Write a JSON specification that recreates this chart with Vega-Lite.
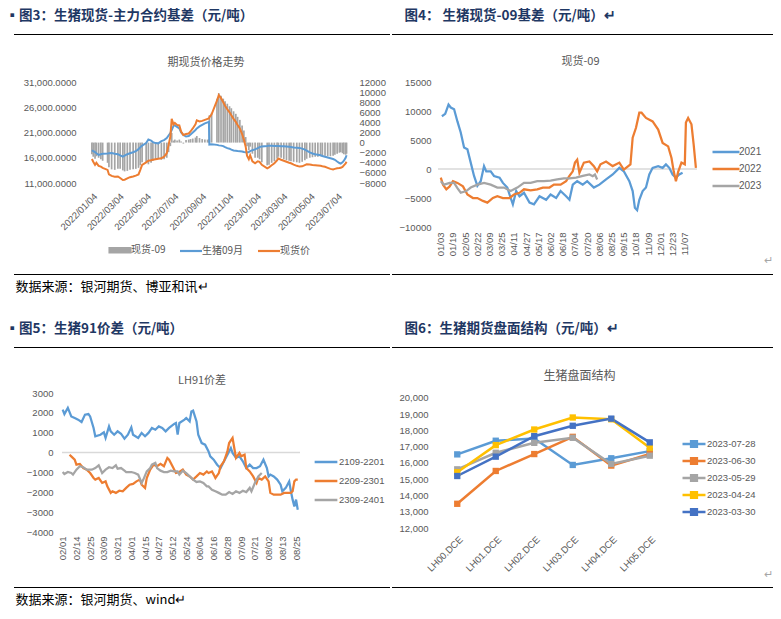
{
  "$schema": "https://vega.github.io/schema/vega-lite/v6.json",
  "padding": {"left": 5, "top": 8, "right": 5, "bottom": 5},
  "background": "white",
  "config": {
    "view": {"stroke": null},
    "font": "Noto Sans CJK SC",
    "axis": {"grid": false, "domain": false, "ticks": false, "labelColor": "#595959", "labelFont": "Liberation Sans", "labelFontSize": 9.5, "labelOverlap": false, "labelBound": false},
    "legend": {"labelColor": "#595959", "labelFontSize": 9.5, "labelFont": "Liberation Sans", "symbolStrokeWidth": 2.5},
    "title": {"font": "Noto Sans CJK SC", "fontWeight": "normal", "color": "#595959", "fontSize": 11}
  },
  "datasets": {
    "sep": [{"a": 0, "b": 1}],
    "c3": [
      {"d": "2022-01-04", "fut": 17500, "spot": 15750, "basis": -2300},
      {"d": "2022-01-07", "fut": 17300, "spot": 15200, "basis": -2800},
      {"d": "2022-01-11", "fut": 17100, "spot": 14600, "basis": -3200},
      {"d": "2022-01-14", "fut": 16900, "spot": 15000, "basis": -2700},
      {"d": "2022-01-19", "fut": 16550, "spot": 14400, "basis": -3000},
      {"d": "2022-01-24", "fut": 16700, "spot": 14250, "basis": -3300},
      {"d": "2022-01-28", "fut": 16800, "spot": 14000, "basis": -3600},
      {"d": "2022-02-08", "fut": 16850, "spot": 13600, "basis": -4000},
      {"d": "2022-02-11", "fut": 16900, "spot": 12700, "basis": -4900},
      {"d": "2022-02-17", "fut": 16950, "spot": 12400, "basis": -5300},
      {"d": "2022-02-24", "fut": 16800, "spot": 12250, "basis": -5400},
      {"d": "2022-03-03", "fut": 16700, "spot": 12300, "basis": -5200},
      {"d": "2022-03-08", "fut": 16450, "spot": 12000, "basis": -5200},
      {"d": "2022-03-14", "fut": 16200, "spot": 11600, "basis": -5500},
      {"d": "2022-03-18", "fut": 16400, "spot": 11650, "basis": -5700},
      {"d": "2022-03-24", "fut": 16700, "spot": 11900, "basis": -5600},
      {"d": "2022-03-30", "fut": 16900, "spot": 12150, "basis": -5400},
      {"d": "2022-04-06", "fut": 17100, "spot": 12300, "basis": -5300},
      {"d": "2022-04-12", "fut": 17300, "spot": 12450, "basis": -5200},
      {"d": "2022-04-18", "fut": 17700, "spot": 12700, "basis": -5000},
      {"d": "2022-04-22", "fut": 18100, "spot": 13600, "basis": -4500},
      {"d": "2022-04-26", "fut": 18400, "spot": 14600, "basis": -3900},
      {"d": "2022-05-05", "fut": 18900, "spot": 15100, "basis": -3900},
      {"d": "2022-05-10", "fut": 19600, "spot": 15400, "basis": -4300},
      {"d": "2022-05-16", "fut": 19400, "spot": 15500, "basis": -4000},
      {"d": "2022-05-20", "fut": 19100, "spot": 15600, "basis": -3600},
      {"d": "2022-05-26", "fut": 18900, "spot": 15700, "basis": -3300},
      {"d": "2022-06-01", "fut": 18850, "spot": 15800, "basis": -3100},
      {"d": "2022-06-08", "fut": 19300, "spot": 15900, "basis": -3400},
      {"d": "2022-06-14", "fut": 19500, "spot": 16200, "basis": -3300},
      {"d": "2022-06-20", "fut": 19900, "spot": 16900, "basis": -3000},
      {"d": "2022-06-24", "fut": 20400, "spot": 18500, "basis": -1900},
      {"d": "2022-06-28", "fut": 20900, "spot": 20200, "basis": -700},
      {"d": "2022-07-01", "fut": 21500, "spot": 23700, "basis": 1900},
      {"d": "2022-07-05", "fut": 22300, "spot": 22600, "basis": 400},
      {"d": "2022-07-08", "fut": 22400, "spot": 22900, "basis": 600},
      {"d": "2022-07-13", "fut": 22100, "spot": 22500, "basis": 400},
      {"d": "2022-07-18", "fut": 21800, "spot": 22400, "basis": 600},
      {"d": "2022-07-22", "fut": 21000, "spot": 21200, "basis": 200},
      {"d": "2022-07-27", "fut": 20500, "spot": 20500, "basis": -200},
      {"d": "2022-08-02", "fut": 20200, "spot": 20700, "basis": 500},
      {"d": "2022-08-08", "fut": 20300, "spot": 20800, "basis": 600},
      {"d": "2022-08-12", "fut": 20600, "spot": 21200, "basis": 700},
      {"d": "2022-08-17", "fut": 21000, "spot": 21800, "basis": 800},
      {"d": "2022-08-23", "fut": 21500, "spot": 22600, "basis": 1000},
      {"d": "2022-08-26", "fut": 21800, "spot": 23400, "basis": 1300},
      {"d": "2022-09-01", "fut": 22200, "spot": 23200, "basis": 900},
      {"d": "2022-09-07", "fut": 22500, "spot": 23300, "basis": 700},
      {"d": "2022-09-13", "fut": 22800, "spot": 23500, "basis": 600},
      {"d": "2022-09-19", "fut": 23000, "spot": 23700, "basis": 600},
      {"d": "2022-09-22", "fut": 23100, "spot": 23800, "basis": 700},
      {"d": "2022-09-23", "fut": 18600, "spot": 24000, "basis": 5400},
      {"d": "2022-09-28", "fut": 18650, "spot": 24600, "basis": 5900},
      {"d": "2022-10-10", "fut": 18550, "spot": 27300, "basis": 8700},
      {"d": "2022-10-14", "fut": 18450, "spot": 28400, "basis": 9800},
      {"d": "2022-10-19", "fut": 18400, "spot": 27800, "basis": 9300},
      {"d": "2022-10-24", "fut": 18300, "spot": 27000, "basis": 8700},
      {"d": "2022-10-28", "fut": 18100, "spot": 26300, "basis": 8200},
      {"d": "2022-11-02", "fut": 17900, "spot": 25600, "basis": 7700},
      {"d": "2022-11-07", "fut": 17800, "spot": 25000, "basis": 7200},
      {"d": "2022-11-11", "fut": 17600, "spot": 24400, "basis": 6800},
      {"d": "2022-11-16", "fut": 17450, "spot": 23700, "basis": 6200},
      {"d": "2022-11-21", "fut": 17400, "spot": 23100, "basis": 5700},
      {"d": "2022-11-25", "fut": 17350, "spot": 22500, "basis": 5100},
      {"d": "2022-11-30", "fut": 17300, "spot": 21800, "basis": 4500},
      {"d": "2022-12-05", "fut": 17250, "spot": 20700, "basis": 3400},
      {"d": "2022-12-09", "fut": 17150, "spot": 19600, "basis": 2400},
      {"d": "2022-12-13", "fut": 17080, "spot": 18200, "basis": 1100},
      {"d": "2022-12-16", "fut": 17060, "spot": 16400, "basis": -700},
      {"d": "2022-12-20", "fut": 17150, "spot": 15700, "basis": -1500},
      {"d": "2022-12-23", "fut": 17300, "spot": 16500, "basis": -800},
      {"d": "2022-12-28", "fut": 17500, "spot": 15300, "basis": -2200},
      {"d": "2023-01-03", "fut": 17650, "spot": 14900, "basis": -3000},
      {"d": "2023-01-09", "fut": 17900, "spot": 15300, "basis": -3000},
      {"d": "2023-01-13", "fut": 18100, "spot": 15200, "basis": -3300},
      {"d": "2023-01-18", "fut": 18250, "spot": 14600, "basis": -3900},
      {"d": "2023-01-30", "fut": 18350, "spot": 13900, "basis": -4500},
      {"d": "2023-02-03", "fut": 18400, "spot": 14100, "basis": -4400},
      {"d": "2023-02-09", "fut": 18400, "spot": 14500, "basis": -4000},
      {"d": "2023-02-15", "fut": 18350, "spot": 14900, "basis": -3700},
      {"d": "2023-02-21", "fut": 18350, "spot": 15500, "basis": -3200},
      {"d": "2023-02-24", "fut": 18350, "spot": 15850, "basis": -2800},
      {"d": "2023-03-02", "fut": 18300, "spot": 15600, "basis": -3000},
      {"d": "2023-03-08", "fut": 18280, "spot": 15400, "basis": -3300},
      {"d": "2023-03-14", "fut": 18250, "spot": 15200, "basis": -3500},
      {"d": "2023-03-20", "fut": 18200, "spot": 15000, "basis": -3600},
      {"d": "2023-03-24", "fut": 18150, "spot": 14900, "basis": -3700},
      {"d": "2023-03-30", "fut": 18050, "spot": 14650, "basis": -3800},
      {"d": "2023-04-06", "fut": 18000, "spot": 14400, "basis": -3900},
      {"d": "2023-04-12", "fut": 17950, "spot": 14250, "basis": -4000},
      {"d": "2023-04-18", "fut": 17800, "spot": 14300, "basis": -3800},
      {"d": "2023-04-24", "fut": 17600, "spot": 14550, "basis": -3500},
      {"d": "2023-04-28", "fut": 17400, "spot": 14700, "basis": -3200},
      {"d": "2023-05-05", "fut": 17050, "spot": 14650, "basis": -3000},
      {"d": "2023-05-11", "fut": 16850, "spot": 14550, "basis": -2900},
      {"d": "2023-05-17", "fut": 16700, "spot": 14500, "basis": -2800},
      {"d": "2023-05-23", "fut": 16600, "spot": 14450, "basis": -2800},
      {"d": "2023-05-29", "fut": 16500, "spot": 14400, "basis": -2700},
      {"d": "2023-06-02", "fut": 16350, "spot": 14300, "basis": -2700},
      {"d": "2023-06-08", "fut": 16200, "spot": 14200, "basis": -2600},
      {"d": "2023-06-14", "fut": 16050, "spot": 14000, "basis": -2700},
      {"d": "2023-06-20", "fut": 15900, "spot": 13800, "basis": -2700},
      {"d": "2023-06-26", "fut": 15750, "spot": 13700, "basis": -2600},
      {"d": "2023-06-30", "fut": 15600, "spot": 13800, "basis": -2400},
      {"d": "2023-07-05", "fut": 15250, "spot": 13900, "basis": -2200},
      {"d": "2023-07-10", "fut": 14950, "spot": 13950, "basis": -2000},
      {"d": "2023-07-13", "fut": 14850, "spot": 14000, "basis": -1900},
      {"d": "2023-07-17", "fut": 15100, "spot": 14200, "basis": -2100},
      {"d": "2023-07-20", "fut": 15400, "spot": 14500, "basis": -2300},
      {"d": "2023-07-24", "fut": 16000, "spot": 14900, "basis": -2400},
      {"d": "2023-07-26", "fut": 16500, "spot": 15200, "basis": -2200}
    ],
    "c4": [
      {"i": 1, "yr": "2021", "v": 9100}, {"i": 4, "yr": "2021", "v": 9500}, {"i": 7, "yr": "2021", "v": 11100}, {"i": 9, "yr": "2021", "v": 10600},
      {"i": 12, "yr": "2021", "v": 10300}, {"i": 15, "yr": "2021", "v": 8200}, {"i": 18, "yr": "2021", "v": 6300}, {"i": 21, "yr": "2021", "v": 3700},
      {"i": 24, "yr": "2021", "v": 3400}, {"i": 27, "yr": "2021", "v": 1100}, {"i": 30, "yr": "2021", "v": -1200}, {"i": 33, "yr": "2021", "v": -2900},
      {"i": 36, "yr": "2021", "v": -2100}, {"i": 39, "yr": "2021", "v": 500}, {"i": 41, "yr": "2021", "v": -400}, {"i": 45, "yr": "2021", "v": -400},
      {"i": 48, "yr": "2021", "v": -1200}, {"i": 53, "yr": "2021", "v": -1500}, {"i": 56, "yr": "2021", "v": -2400}, {"i": 60, "yr": "2021", "v": -3200},
      {"i": 63, "yr": "2021", "v": -5000}, {"i": 65, "yr": "2021", "v": -6100}, {"i": 68, "yr": "2021", "v": -3800}, {"i": 71, "yr": "2021", "v": -4700},
      {"i": 75, "yr": "2021", "v": -4100}, {"i": 80, "yr": "2021", "v": -5800}, {"i": 84, "yr": "2021", "v": -6100}, {"i": 89, "yr": "2021", "v": -4700},
      {"i": 95, "yr": "2021", "v": -5300}, {"i": 99, "yr": "2021", "v": -4400}, {"i": 104, "yr": "2021", "v": -5000}, {"i": 108, "yr": "2021", "v": -3800},
      {"i": 113, "yr": "2021", "v": -4700}, {"i": 116, "yr": "2021", "v": -5300}, {"i": 119, "yr": "2021", "v": -2700}, {"i": 123, "yr": "2021", "v": -2100},
      {"i": 128, "yr": "2021", "v": -2700}, {"i": 132, "yr": "2021", "v": -2100}, {"i": 138, "yr": "2021", "v": -3200}, {"i": 143, "yr": "2021", "v": -2700},
      {"i": 149, "yr": "2021", "v": -1800}, {"i": 155, "yr": "2021", "v": -950}, {"i": 161, "yr": "2021", "v": 200}, {"i": 165, "yr": "2021", "v": -400},
      {"i": 170, "yr": "2021", "v": -2100}, {"i": 173, "yr": "2021", "v": -3800}, {"i": 175, "yr": "2021", "v": -6700}, {"i": 177, "yr": "2021", "v": -7100},
      {"i": 179, "yr": "2021", "v": -5300}, {"i": 182, "yr": "2021", "v": -3800}, {"i": 185, "yr": "2021", "v": -3200}, {"i": 188, "yr": "2021", "v": -950},
      {"i": 191, "yr": "2021", "v": 200}, {"i": 196, "yr": "2021", "v": 500}, {"i": 200, "yr": "2021", "v": 200}, {"i": 203, "yr": "2021", "v": 800},
      {"i": 206, "yr": "2021", "v": 200}, {"i": 209, "yr": "2021", "v": -950}, {"i": 212, "yr": "2021", "v": -1500}, {"i": 215, "yr": "2021", "v": -950},
      {"i": 218, "yr": "2021", "v": -650},
      {"i": 0, "yr": "2022", "v": -1500}, {"i": 2, "yr": "2022", "v": -2700}, {"i": 5, "yr": "2022", "v": -3500}, {"i": 8, "yr": "2022", "v": -3000},
      {"i": 11, "yr": "2022", "v": -2100}, {"i": 15, "yr": "2022", "v": -2400}, {"i": 20, "yr": "2022", "v": -3000}, {"i": 24, "yr": "2022", "v": -4400},
      {"i": 29, "yr": "2022", "v": -5000}, {"i": 33, "yr": "2022", "v": -5000}, {"i": 38, "yr": "2022", "v": -5500}, {"i": 42, "yr": "2022", "v": -5800},
      {"i": 47, "yr": "2022", "v": -5000}, {"i": 51, "yr": "2022", "v": -4700}, {"i": 56, "yr": "2022", "v": -5000}, {"i": 62, "yr": "2022", "v": -5000},
      {"i": 66, "yr": "2022", "v": -4400}, {"i": 71, "yr": "2022", "v": -4100}, {"i": 75, "yr": "2022", "v": -3500}, {"i": 81, "yr": "2022", "v": -3700},
      {"i": 87, "yr": "2022", "v": -3500}, {"i": 92, "yr": "2022", "v": -3200}, {"i": 98, "yr": "2022", "v": -3200}, {"i": 102, "yr": "2022", "v": -2700},
      {"i": 108, "yr": "2022", "v": -2700}, {"i": 113, "yr": "2022", "v": -2100}, {"i": 116, "yr": "2022", "v": -1200}, {"i": 119, "yr": "2022", "v": -400},
      {"i": 121, "yr": "2022", "v": 1100}, {"i": 123, "yr": "2022", "v": 1600}, {"i": 125, "yr": "2022", "v": -650}, {"i": 129, "yr": "2022", "v": 1100},
      {"i": 134, "yr": "2022", "v": 1300}, {"i": 138, "yr": "2022", "v": 500}, {"i": 141, "yr": "2022", "v": -400}, {"i": 144, "yr": "2022", "v": 800},
      {"i": 149, "yr": "2022", "v": 1300}, {"i": 155, "yr": "2022", "v": 500}, {"i": 161, "yr": "2022", "v": 1100}, {"i": 165, "yr": "2022", "v": -100},
      {"i": 171, "yr": "2022", "v": 800}, {"i": 173, "yr": "2022", "v": 5400}, {"i": 176, "yr": "2022", "v": 7100}, {"i": 179, "yr": "2022", "v": 9700},
      {"i": 181, "yr": "2022", "v": 9700}, {"i": 185, "yr": "2022", "v": 8800}, {"i": 191, "yr": "2022", "v": 8200}, {"i": 196, "yr": "2022", "v": 6800},
      {"i": 200, "yr": "2022", "v": 4500}, {"i": 205, "yr": "2022", "v": 3900}, {"i": 208, "yr": "2022", "v": 1900}, {"i": 210, "yr": "2022", "v": -400},
      {"i": 212, "yr": "2022", "v": -2100}, {"i": 214, "yr": "2022", "v": -500}, {"i": 217, "yr": "2022", "v": 1100}, {"i": 220, "yr": "2022", "v": 800},
      {"i": 221, "yr": "2022", "v": 8000}, {"i": 223, "yr": "2022", "v": 8800}, {"i": 226, "yr": "2022", "v": 7700}, {"i": 228, "yr": "2022", "v": 4200},
      {"i": 230, "yr": "2022", "v": 200},
      {"i": 0, "yr": "2023", "v": -2100}, {"i": 3, "yr": "2023", "v": -2700}, {"i": 8, "yr": "2023", "v": -2400}, {"i": 12, "yr": "2023", "v": -2400},
      {"i": 15, "yr": "2023", "v": -3300}, {"i": 18, "yr": "2023", "v": -4100}, {"i": 23, "yr": "2023", "v": -3800}, {"i": 27, "yr": "2023", "v": -3200},
      {"i": 33, "yr": "2023", "v": -2700}, {"i": 39, "yr": "2023", "v": -2400}, {"i": 45, "yr": "2023", "v": -2700}, {"i": 51, "yr": "2023", "v": -3200},
      {"i": 57, "yr": "2023", "v": -3200}, {"i": 63, "yr": "2023", "v": -3800}, {"i": 69, "yr": "2023", "v": -3200}, {"i": 75, "yr": "2023", "v": -2400},
      {"i": 81, "yr": "2023", "v": -2400}, {"i": 87, "yr": "2023", "v": -2100}, {"i": 93, "yr": "2023", "v": -2100}, {"i": 99, "yr": "2023", "v": -2000},
      {"i": 105, "yr": "2023", "v": -1800}, {"i": 111, "yr": "2023", "v": -1600}, {"i": 116, "yr": "2023", "v": -1600}, {"i": 122, "yr": "2023", "v": -1500},
      {"i": 128, "yr": "2023", "v": -1200}, {"i": 134, "yr": "2023", "v": -950}, {"i": 137, "yr": "2023", "v": -1240}, {"i": 139, "yr": "2023", "v": -950},
      {"i": 141, "yr": "2023", "v": -1800}
    ],
    "c5": [
      {"i": 0, "s": "2109-2201", "v": 2160}, {"i": 1, "s": "2109-2201", "v": 1940}, {"i": 3, "s": "2109-2201", "v": 2250}, {"i": 5, "s": "2109-2201", "v": 1820},
      {"i": 7, "s": "2109-2201", "v": 1740}, {"i": 9, "s": "2109-2201", "v": 1660}, {"i": 11, "s": "2109-2201", "v": 1540}, {"i": 13, "s": "2109-2201", "v": 1910},
      {"i": 15, "s": "2109-2201", "v": 1940}, {"i": 16, "s": "2109-2201", "v": 1820}, {"i": 18, "s": "2109-2201", "v": 1240}, {"i": 19, "s": "2109-2201", "v": 820},
      {"i": 22, "s": "2109-2201", "v": 900}, {"i": 24, "s": "2109-2201", "v": 1020}, {"i": 25, "s": "2109-2201", "v": 740}, {"i": 27, "s": "2109-2201", "v": 1320},
      {"i": 28, "s": "2109-2201", "v": 1070}, {"i": 30, "s": "2109-2201", "v": 900}, {"i": 32, "s": "2109-2201", "v": 1070}, {"i": 34, "s": "2109-2201", "v": 950},
      {"i": 36, "s": "2109-2201", "v": 700}, {"i": 38, "s": "2109-2201", "v": 900}, {"i": 40, "s": "2109-2201", "v": 1270}, {"i": 41, "s": "2109-2201", "v": 900},
      {"i": 44, "s": "2109-2201", "v": 740}, {"i": 46, "s": "2109-2201", "v": 990}, {"i": 48, "s": "2109-2201", "v": 820}, {"i": 50, "s": "2109-2201", "v": 990},
      {"i": 52, "s": "2109-2201", "v": 1240}, {"i": 54, "s": "2109-2201", "v": 1150}, {"i": 56, "s": "2109-2201", "v": 1320}, {"i": 58, "s": "2109-2201", "v": 1240},
      {"i": 60, "s": "2109-2201", "v": 1070}, {"i": 62, "s": "2109-2201", "v": 1240}, {"i": 65, "s": "2109-2201", "v": 1440}, {"i": 66, "s": "2109-2201", "v": 1490},
      {"i": 67, "s": "2109-2201", "v": 900}, {"i": 68, "s": "2109-2201", "v": 1490}, {"i": 71, "s": "2109-2201", "v": 1660}, {"i": 72, "s": "2109-2201", "v": 1740},
      {"i": 74, "s": "2109-2201", "v": 1570}, {"i": 75, "s": "2109-2201", "v": 2070}, {"i": 76, "s": "2109-2201", "v": 2110}, {"i": 78, "s": "2109-2201", "v": 1570},
      {"i": 79, "s": "2109-2201", "v": 900}, {"i": 81, "s": "2109-2201", "v": 480}, {"i": 83, "s": "2109-2201", "v": 400}, {"i": 85, "s": "2109-2201", "v": 60},
      {"i": 86, "s": "2109-2201", "v": -190}, {"i": 88, "s": "2109-2201", "v": -360}, {"i": 90, "s": "2109-2201", "v": -610}, {"i": 92, "s": "2109-2201", "v": -780},
      {"i": 94, "s": "2109-2201", "v": -440}, {"i": 96, "s": "2109-2201", "v": -110}, {"i": 98, "s": "2109-2201", "v": 230}, {"i": 99, "s": "2109-2201", "v": -20},
      {"i": 101, "s": "2109-2201", "v": -270}, {"i": 103, "s": "2109-2201", "v": -190}, {"i": 105, "s": "2109-2201", "v": -440}, {"i": 107, "s": "2109-2201", "v": -780},
      {"i": 109, "s": "2109-2201", "v": -610}, {"i": 111, "s": "2109-2201", "v": -780}, {"i": 113, "s": "2109-2201", "v": -780}, {"i": 115, "s": "2109-2201", "v": -690},
      {"i": 117, "s": "2109-2201", "v": -360}, {"i": 119, "s": "2109-2201", "v": -780}, {"i": 120, "s": "2109-2201", "v": -1200}, {"i": 121, "s": "2109-2201", "v": -1110},
      {"i": 123, "s": "2109-2201", "v": -1200}, {"i": 125, "s": "2109-2201", "v": -1360}, {"i": 127, "s": "2109-2201", "v": -1620}, {"i": 128, "s": "2109-2201", "v": -1950},
      {"i": 130, "s": "2109-2201", "v": -1780}, {"i": 132, "s": "2109-2201", "v": -1450}, {"i": 133, "s": "2109-2201", "v": -1950}, {"i": 134, "s": "2109-2201", "v": -2370},
      {"i": 135, "s": "2109-2201", "v": -2710}, {"i": 136, "s": "2109-2201", "v": -2370}, {"i": 137, "s": "2109-2201", "v": -2880},
      {"i": 4, "s": "2209-2301", "v": -110}, {"i": 5, "s": "2209-2301", "v": -190}, {"i": 7, "s": "2209-2301", "v": -360}, {"i": 8, "s": "2209-2301", "v": -610},
      {"i": 10, "s": "2209-2301", "v": -570}, {"i": 12, "s": "2209-2301", "v": -780}, {"i": 14, "s": "2209-2301", "v": -860}, {"i": 16, "s": "2209-2301", "v": -1030},
      {"i": 18, "s": "2209-2301", "v": -1280}, {"i": 19, "s": "2209-2301", "v": -1360}, {"i": 21, "s": "2209-2301", "v": -1280}, {"i": 23, "s": "2209-2301", "v": -1530},
      {"i": 25, "s": "2209-2301", "v": -1450}, {"i": 26, "s": "2209-2301", "v": -1700}, {"i": 28, "s": "2209-2301", "v": -2030}, {"i": 29, "s": "2209-2301", "v": -1950},
      {"i": 31, "s": "2209-2301", "v": -2030}, {"i": 33, "s": "2209-2301", "v": -1920}, {"i": 35, "s": "2209-2301", "v": -1950}, {"i": 37, "s": "2209-2301", "v": -1780},
      {"i": 39, "s": "2209-2301", "v": -1620}, {"i": 41, "s": "2209-2301", "v": -1580}, {"i": 43, "s": "2209-2301", "v": -1450}, {"i": 45, "s": "2209-2301", "v": -1360},
      {"i": 46, "s": "2209-2301", "v": -1620}, {"i": 48, "s": "2209-2301", "v": -1780}, {"i": 49, "s": "2209-2301", "v": -1280}, {"i": 51, "s": "2209-2301", "v": -860},
      {"i": 53, "s": "2209-2301", "v": -610}, {"i": 55, "s": "2209-2301", "v": -690}, {"i": 57, "s": "2209-2301", "v": -570}, {"i": 59, "s": "2209-2301", "v": -690},
      {"i": 61, "s": "2209-2301", "v": -270}, {"i": 62, "s": "2209-2301", "v": -360}, {"i": 64, "s": "2209-2301", "v": -690}, {"i": 66, "s": "2209-2301", "v": -1030},
      {"i": 68, "s": "2209-2301", "v": -980}, {"i": 70, "s": "2209-2301", "v": -860}, {"i": 72, "s": "2209-2301", "v": -1110}, {"i": 74, "s": "2209-2301", "v": -1200},
      {"i": 76, "s": "2209-2301", "v": -1360}, {"i": 78, "s": "2209-2301", "v": -1200}, {"i": 80, "s": "2209-2301", "v": -1030}, {"i": 82, "s": "2209-2301", "v": -1110},
      {"i": 84, "s": "2209-2301", "v": -950}, {"i": 85, "s": "2209-2301", "v": -1030}, {"i": 87, "s": "2209-2301", "v": -950}, {"i": 88, "s": "2209-2301", "v": -1110},
      {"i": 89, "s": "2209-2301", "v": -1280}, {"i": 91, "s": "2209-2301", "v": -1030}, {"i": 92, "s": "2209-2301", "v": -690}, {"i": 94, "s": "2209-2301", "v": -440},
      {"i": 96, "s": "2209-2301", "v": 60}, {"i": 97, "s": "2209-2301", "v": 480}, {"i": 99, "s": "2209-2301", "v": 740}, {"i": 100, "s": "2209-2301", "v": 230},
      {"i": 101, "s": "2209-2301", "v": -270}, {"i": 103, "s": "2209-2301", "v": -20}, {"i": 104, "s": "2209-2301", "v": -190}, {"i": 106, "s": "2209-2301", "v": -110},
      {"i": 107, "s": "2209-2301", "v": -780}, {"i": 109, "s": "2209-2301", "v": -950}, {"i": 111, "s": "2209-2301", "v": -1200}, {"i": 113, "s": "2209-2301", "v": -1530},
      {"i": 114, "s": "2209-2301", "v": -1280}, {"i": 116, "s": "2209-2301", "v": -1360}, {"i": 118, "s": "2209-2301", "v": -1200}, {"i": 120, "s": "2209-2301", "v": -1450},
      {"i": 121, "s": "2209-2301", "v": -2030}, {"i": 123, "s": "2209-2301", "v": -2120}, {"i": 125, "s": "2209-2301", "v": -2120}, {"i": 127, "s": "2209-2301", "v": -2120},
      {"i": 129, "s": "2209-2301", "v": -2030}, {"i": 131, "s": "2209-2301", "v": -2030}, {"i": 133, "s": "2209-2301", "v": -2030}, {"i": 134, "s": "2209-2301", "v": -1950},
      {"i": 135, "s": "2209-2301", "v": -1450}, {"i": 136, "s": "2209-2301", "v": -1360}, {"i": 137, "s": "2209-2301", "v": -1360},
      {"i": 0, "s": "2309-2401", "v": -980}, {"i": 1, "s": "2309-2401", "v": -1080}, {"i": 3, "s": "2309-2401", "v": -980}, {"i": 5, "s": "2309-2401", "v": -1030},
      {"i": 6, "s": "2309-2401", "v": -1110}, {"i": 8, "s": "2309-2401", "v": -860}, {"i": 10, "s": "2309-2401", "v": -690}, {"i": 12, "s": "2309-2401", "v": -740},
      {"i": 14, "s": "2309-2401", "v": -860}, {"i": 16, "s": "2309-2401", "v": -860}, {"i": 17, "s": "2309-2401", "v": -860}, {"i": 19, "s": "2309-2401", "v": -780},
      {"i": 21, "s": "2309-2401", "v": -640}, {"i": 23, "s": "2309-2401", "v": -1030}, {"i": 25, "s": "2309-2401", "v": -860}, {"i": 27, "s": "2309-2401", "v": -740},
      {"i": 29, "s": "2309-2401", "v": -780}, {"i": 31, "s": "2309-2401", "v": -640}, {"i": 32, "s": "2309-2401", "v": -810}, {"i": 34, "s": "2309-2401", "v": -780},
      {"i": 36, "s": "2309-2401", "v": -910}, {"i": 37, "s": "2309-2401", "v": -980}, {"i": 39, "s": "2309-2401", "v": -980}, {"i": 40, "s": "2309-2401", "v": -980},
      {"i": 42, "s": "2309-2401", "v": -1030}, {"i": 44, "s": "2309-2401", "v": -1110}, {"i": 46, "s": "2309-2401", "v": -1530}, {"i": 47, "s": "2309-2401", "v": -1360},
      {"i": 49, "s": "2309-2401", "v": -950}, {"i": 51, "s": "2309-2401", "v": -780}, {"i": 52, "s": "2309-2401", "v": -610}, {"i": 54, "s": "2309-2401", "v": -520},
      {"i": 55, "s": "2309-2401", "v": -780}, {"i": 57, "s": "2309-2401", "v": -910}, {"i": 59, "s": "2309-2401", "v": -980}, {"i": 61, "s": "2309-2401", "v": -980},
      {"i": 63, "s": "2309-2401", "v": -910}, {"i": 65, "s": "2309-2401", "v": -950}, {"i": 67, "s": "2309-2401", "v": -950}, {"i": 68, "s": "2309-2401", "v": -1110},
      {"i": 70, "s": "2309-2401", "v": -910}, {"i": 72, "s": "2309-2401", "v": -1030}, {"i": 74, "s": "2309-2401", "v": -1200}, {"i": 76, "s": "2309-2401", "v": -1360},
      {"i": 78, "s": "2309-2401", "v": -1480}, {"i": 80, "s": "2309-2401", "v": -1450}, {"i": 82, "s": "2309-2401", "v": -1530}, {"i": 84, "s": "2309-2401", "v": -1700},
      {"i": 85, "s": "2309-2401", "v": -1700}, {"i": 87, "s": "2309-2401", "v": -1870}, {"i": 89, "s": "2309-2401", "v": -1950}, {"i": 91, "s": "2309-2401", "v": -2030},
      {"i": 93, "s": "2309-2401", "v": -2120}, {"i": 95, "s": "2309-2401", "v": -2120}, {"i": 97, "s": "2309-2401", "v": -1990}, {"i": 99, "s": "2309-2401", "v": -2080},
      {"i": 101, "s": "2309-2401", "v": -1950}, {"i": 103, "s": "2309-2401", "v": -2030}, {"i": 105, "s": "2309-2401", "v": -1920}, {"i": 107, "s": "2309-2401", "v": -1990},
      {"i": 109, "s": "2309-2401", "v": -1780}, {"i": 110, "s": "2309-2401", "v": -1950}, {"i": 112, "s": "2309-2401", "v": -1530}, {"i": 114, "s": "2309-2401", "v": -1200},
      {"i": 116, "s": "2309-2401", "v": -1030}
    ],
    "c6": [
      {"c": "LH00.DCE", "dt": "2023-07-28", "v": 16530}, {"c": "LH01.DCE", "dt": "2023-07-28", "v": 17370}, {"c": "LH02.DCE", "dt": "2023-07-28", "v": 17510},
      {"c": "LH03.DCE", "dt": "2023-07-28", "v": 15880}, {"c": "LH04.DCE", "dt": "2023-07-28", "v": 16290}, {"c": "LH05.DCE", "dt": "2023-07-28", "v": 16730},
      {"c": "LH00.DCE", "dt": "2023-06-30", "v": 13490}, {"c": "LH01.DCE", "dt": "2023-06-30", "v": 15510}, {"c": "LH02.DCE", "dt": "2023-06-30", "v": 16550},
      {"c": "LH03.DCE", "dt": "2023-06-30", "v": 17610}, {"c": "LH04.DCE", "dt": "2023-06-30", "v": 15840}, {"c": "LH05.DCE", "dt": "2023-06-30", "v": 16550},
      {"c": "LH00.DCE", "dt": "2023-05-29", "v": 15610}, {"c": "LH01.DCE", "dt": "2023-05-29", "v": 16630}, {"c": "LH02.DCE", "dt": "2023-05-29", "v": 17240},
      {"c": "LH03.DCE", "dt": "2023-05-29", "v": 17550}, {"c": "LH04.DCE", "dt": "2023-05-29", "v": 15940}, {"c": "LH05.DCE", "dt": "2023-05-29", "v": 16450},
      {"c": "LH00.DCE", "dt": "2023-04-24", "v": 15430}, {"c": "LH01.DCE", "dt": "2023-04-24", "v": 17100}, {"c": "LH02.DCE", "dt": "2023-04-24", "v": 18060},
      {"c": "LH03.DCE", "dt": "2023-04-24", "v": 18800}, {"c": "LH04.DCE", "dt": "2023-04-24", "v": 18690}, {"c": "LH05.DCE", "dt": "2023-04-24", "v": 16940},
      {"c": "LH00.DCE", "dt": "2023-03-30", "v": 15200}, {"c": "LH01.DCE", "dt": "2023-03-30", "v": 16390}, {"c": "LH02.DCE", "dt": "2023-03-30", "v": 17650},
      {"c": "LH03.DCE", "dt": "2023-03-30", "v": 18290}, {"c": "LH04.DCE", "dt": "2023-03-30", "v": 18730}, {"c": "LH05.DCE", "dt": "2023-03-30", "v": 17270}
    ]
  },
  "bounds": "flush",
  "spacing": 313,
  "resolve": {"scale": {"color": "independent"}, "legend": {"color": "independent"}},
  "vconcat": [
    {
      "bounds": "flush",
      "spacing": 48,
      "resolve": {"scale": {"color": "independent"}, "legend": {"color": "independent"}},
      "vconcat": [
        {
          "bounds": "flush",
          "spacing": 2,
          "hconcat": [
            {
              "width": 376, "height": 1,
              "data": {"name": "sep"},
              "title": {"text": "▪图3：生猪现货-主力合约基差（元/吨）", "anchor": "start", "dx": -8, "offset": 12, "fontSize": 13.5, "fontWeight": "bold", "color": "#1F3864"},
              "mark": {"type": "rule", "color": "#000000", "strokeWidth": 1},
              "encoding": {"x": {"field": "a", "type": "quantitative", "scale": {"domain": [0, 1]}, "axis": null}, "x2": {"field": "b"}}
            },
            {
              "width": 381, "height": 1,
              "data": {"name": "sep"},
              "title": {"text": "图4： 生猪现货-09基差（元/吨）↵", "anchor": "start", "dx": 13, "offset": 12, "fontSize": 13.5, "fontWeight": "bold", "color": "#1F3864"},
              "mark": {"type": "rule", "color": "#000000", "strokeWidth": 1},
              "encoding": {"x": {"field": "a", "type": "quantitative", "scale": {"domain": [0, 1]}, "axis": null}, "x2": {"field": "b"}}
            }
          ]
        },
        {
          "bounds": "flush",
          "spacing": 192,
          "resolve": {"scale": {"color": "independent"}, "legend": {"color": "independent"}},
          "vconcat": [
            {
              "bounds": "flush",
              "spacing": 71,
              "resolve": {"scale": {"color": "independent"}, "legend": {"color": "independent"}},
              "hconcat": [
                {"width": 1, "height": 1, "data": {"values": []}, "mark": "point"},
                {
                  "bounds": "flush",
                  "spacing": 86,
                  "resolve": {"scale": {"color": "independent"}, "legend": {"color": "independent"}},
                  "hconcat": [
                    {
                      "width": 266, "height": 101,
                      "data": {"name": "c3"},
                      "title": {"text": "期现货价格走势", "anchor": "middle", "frame": "group", "dx": -13, "offset": 9},
                      "encoding": {
                        "x": {
                          "field": "d", "type": "temporal",
                          "scale": {"type": "utc", "domain": [{"year": 2022, "month": 1, "date": 2, "utc": true}, {"year": 2023, "month": 7, "date": 27, "utc": true}]},
                          "axis": {
                            "title": null, "labelAngle": -45, "labelPadding": 8, "format": "%Y/%m/%d",
                            "values": [
                              {"year": 2022, "month": 1, "date": 4, "utc": true}, {"year": 2022, "month": 3, "date": 4, "utc": true},
                              {"year": 2022, "month": 5, "date": 4, "utc": true}, {"year": 2022, "month": 7, "date": 4, "utc": true},
                              {"year": 2022, "month": 9, "date": 4, "utc": true}, {"year": 2022, "month": 11, "date": 4, "utc": true},
                              {"year": 2023, "month": 1, "date": 4, "utc": true}, {"year": 2023, "month": 3, "date": 4, "utc": true},
                              {"year": 2023, "month": 5, "date": 4, "utc": true}, {"year": 2023, "month": 7, "date": 4, "utc": true}
                            ]
                          }
                        }
                      },
                      "layer": [
                        {
                          "mark": {"type": "bar", "width": 1.7},
                          "encoding": {
                            "y": {
                              "field": "basis", "type": "quantitative",
                              "scale": {"domain": [-8000, 12000], "nice": false},
                              "axis": {"orient": "right", "title": null, "format": "d", "labelPadding": 7, "values": [-8000, -6000, -4000, -2000, 0, 2000, 4000, 6000, 8000, 10000, 12000]}
                            },
                            "color": {
                              "datum": "现货-09",
                              "scale": {"domain": ["现货-09", "生猪09月", "现货价"], "range": ["#A5A5A5", "#5B9BD5", "#ED7D31"]},
                              "legend": {
                                "title": null, "orient": "none", "legendX": 27, "legendY": 161, "direction": "horizontal",
                                "symbolSize": 121, "labelFont": "Noto Sans CJK SC", "labelFontSize": 10, "labelOffset": 4, "columnPadding": 9,
                                "encode": {
                                  "symbols": {
                                    "update": {
                                      "shape": {"signal": "datum.value === '现货-09' ? 'M-1.9,-0.38H1.9V0.38H-1.9Z' : 'M-2,0H2'"},
                                      "fill": {"signal": "datum.value === '现货-09' ? '#A5A5A5' : 'transparent'"},
                                      "stroke": {"signal": "datum.value === '生猪09月' ? '#5B9BD5' : (datum.value === '现货价' ? '#ED7D31' : 'transparent')"},
                                      "strokeWidth": {"value": 2.2},
                                      "opacity": {"value": 1}
                                    }
                                  }
                                }
                              }
                            }
                          }
                        },
                        {
                          "layer": [
                            {
                              "mark": {"type": "line", "strokeWidth": 2},
                              "encoding": {
                                "y": {
                                  "field": "fut", "type": "quantitative",
                                  "scale": {"domain": [11000, 31000], "nice": false},
                                  "axis": {"orient": "left", "title": null, "format": ",.4f", "labelPadding": 10, "values": [11000, 16000, 21000, 26000, 31000]}
                                },
                                "color": {"datum": "生猪09月"}
                              }
                            },
                            {
                              "mark": {"type": "line", "strokeWidth": 2},
                              "encoding": {
                                "y": {
                                  "field": "spot", "type": "quantitative",
                                  "axis": {"orient": "left", "title": null, "format": ",.4f", "labelPadding": 10, "values": [11000, 16000, 21000, 26000, 31000]}
                                },
                                "color": {"datum": "现货价"}
                              }
                            }
                          ]
                        }
                      ],
                      "resolve": {"scale": {"y": "independent"}}
                    },
                    {
                      "width": 259, "height": 145,
                      "title": {"text": "现货-09", "anchor": "middle", "frame": "group", "dx": 13, "offset": 10},
                      "layer": [
                        {
                          "data": {"values": [{}]},
                          "mark": {"type": "rule", "color": "#D9D9D9", "strokeWidth": 1.5},
                          "encoding": {
                            "y": {
                              "datum": 0, "type": "quantitative",
                              "axis": {"title": null, "labelPadding": 7, "values": [-10000, -5000, 0, 5000, 10000, 15000], "format": "d"}
                            }
                          }
                        },
                        {
                          "data": {"name": "c4"},
                          "mark": {"type": "line", "strokeWidth": 2.25},
                          "encoding": {
                            "x": {
                              "field": "i", "type": "quantitative",
                              "scale": {"domain": [-2.5, 231], "nice": false, "zero": false},
                              "axis": {
                                "title": null, "labelAngle": -90, "labelPadding": 5,
                                "values": [0, 11, 22, 33, 44, 55, 66, 77, 88, 99, 110, 121, 132, 143, 154, 165, 176, 187, 198, 209, 220],
                                "labelExpr": "['01/03','01/19','02/05','02/22','03/09','03/25','04/11','04/27','05/17','06/02','06/18','07/04','07/20','08/06','08/25','09/15','10/18','11/09','12/01','12/23','11/07'][round(datum.value / 11)]"
                              }
                            },
                            "y": {
                              "field": "v", "type": "quantitative",
                              "scale": {"domain": [-10000, 15000], "nice": false},
                              "axis": {"title": null, "labelPadding": 7, "values": [-10000, -5000, 0, 5000, 10000, 15000], "format": "d"}
                            },
                            "color": {
                              "field": "yr", "type": "nominal",
                              "scale": {"domain": ["2021", "2022", "2023"], "range": ["#5B9BD5", "#ED7D31", "#A5A5A5"]},
                              "legend": {
                                "title": null, "orient": "none", "legendX": 280, "legendY": 62, "direction": "vertical",
                                "symbolType": "M-2,0H2", "symbolSize": 182, "labelOffset": 5, "rowPadding": 4, "labelFontSize": 10
                              }
                            }
                          }
                        }
                      ]
                    }
                  ]
                }
              ]
            },
            {
              "bounds": "flush",
              "spacing": 2,
              "hconcat": [
                {
                  "width": 376, "height": 1,
                  "data": {"name": "sep"},
                  "title": {"text": "数据来源：银河期货、博亚和讯↵", "orient": "bottom", "anchor": "start", "dx": 2, "offset": 6, "fontSize": 13, "color": "#000000"},
                  "mark": {"type": "rule", "color": "#000000", "strokeWidth": 1},
                  "encoding": {"x": {"field": "a", "type": "quantitative", "scale": {"domain": [0, 1]}, "axis": null}, "x2": {"field": "b"}}
                },
                {
                  "width": 381, "height": 1,
                  "data": {"name": "sep"},
                  "title": {"text": "↵", "orient": "top", "anchor": "end", "dx": -1, "offset": 8, "fontSize": 11, "color": "#A6A6A6"},
                  "mark": {"type": "rule", "color": "#000000", "strokeWidth": 1},
                  "encoding": {"x": {"field": "a", "type": "quantitative", "scale": {"domain": [0, 1]}, "axis": null}, "x2": {"field": "b"}}
                }
              ]
            }
          ]
        }
      ]
    },
    {
      "bounds": "flush",
      "spacing": 46,
      "resolve": {"scale": {"color": "independent"}, "legend": {"color": "independent"}},
      "vconcat": [
        {
          "bounds": "flush",
          "spacing": 2,
          "hconcat": [
            {
              "width": 376, "height": 1,
              "data": {"name": "sep"},
              "title": {"text": "▪图5：生猪91价差（元/吨）", "anchor": "start", "dx": -8, "offset": 12, "fontSize": 13.5, "fontWeight": "bold", "color": "#1F3864"},
              "mark": {"type": "rule", "color": "#000000", "strokeWidth": 1},
              "encoding": {"x": {"field": "a", "type": "quantitative", "scale": {"domain": [0, 1]}, "axis": null}, "x2": {"field": "b"}}
            },
            {
              "width": 381, "height": 1,
              "data": {"name": "sep"},
              "title": {"text": "图6：生猪期货盘面结构（元/吨）↵", "anchor": "start", "dx": 13, "offset": 12, "fontSize": 13.5, "fontWeight": "bold", "color": "#1F3864"},
              "mark": {"type": "rule", "color": "#000000", "strokeWidth": 1},
              "encoding": {"x": {"field": "a", "type": "quantitative", "scale": {"domain": [0, 1]}, "axis": null}, "x2": {"field": "b"}}
            }
          ]
        },
        {
          "bounds": "flush",
          "spacing": 194,
          "resolve": {"scale": {"color": "independent"}, "legend": {"color": "independent"}},
          "vconcat": [
            {
              "bounds": "flush",
              "spacing": 47,
              "resolve": {"scale": {"color": "independent"}, "legend": {"color": "independent"}},
              "hconcat": [
                {"width": 1, "height": 1, "data": {"values": []}, "mark": "point"},
                {
                  "bounds": "flush",
                  "spacing": 138,
                  "resolve": {"scale": {"color": "independent"}, "legend": {"color": "independent"}},
                  "hconcat": [
                    {
                      "width": 238, "height": 139,
                      "title": {"text": "LH91价差", "anchor": "middle", "frame": "group", "dx": 21, "offset": 2},
                      "layer": [
                        {
                          "data": {"values": [{}]},
                          "mark": {"type": "rule", "color": "#D9D9D9", "strokeWidth": 1.5},
                          "encoding": {
                            "y": {
                              "datum": 0, "type": "quantitative",
                              "axis": {"title": null, "labelPadding": 9, "values": [-4000, -3000, -2000, -1000, 0, 1000, 2000, 3000], "format": "d"}
                            }
                          }
                        },
                        {
                          "data": {"name": "c5"},
                          "mark": {"type": "line", "strokeWidth": 2.25},
                          "encoding": {
                            "x": {
                              "field": "i", "type": "quantitative",
                              "scale": {"domain": [-0.4, 138.3], "nice": false, "zero": false},
                              "axis": {
                                "title": null, "labelAngle": -90, "labelPadding": 4,
                                "values": [0, 8, 16, 24, 32, 40, 48, 56, 64, 72, 80, 88, 96, 104, 112, 120, 128, 136],
                                "labelExpr": "['02/01','02/14','02/25','03/09','03/21','04/01','04/15','04/27','05/12','05/24','06/04','06/16','06/28','07/09','07/21','08/02','08/13','08/25'][round(datum.value / 8)]"
                              }
                            },
                            "y": {
                              "field": "v", "type": "quantitative",
                              "scale": {"domain": [-4000, 3000], "nice": false},
                              "axis": {"title": null, "labelPadding": 9, "values": [-4000, -3000, -2000, -1000, 0, 1000, 2000, 3000], "format": "d"}
                            },
                            "color": {
                              "field": "s", "type": "nominal",
                              "scale": {"domain": ["2109-2201", "2209-2301", "2309-2401"], "range": ["#5B9BD5", "#ED7D31", "#A5A5A5"]},
                              "legend": {
                                "title": null, "orient": "none", "legendX": 257, "legendY": 62, "direction": "vertical",
                                "symbolType": "M-2,0H2", "symbolSize": 129, "labelOffset": 6, "rowPadding": 7
                              }
                            }
                          }
                        }
                      ]
                    },
                    {
                      "width": 231, "height": 135,
                      "data": {"name": "c6"},
                      "title": {"text": "生猪盘面结构", "anchor": "middle", "frame": "group", "dx": 26, "offset": 10, "fontSize": 12},
                      "mark": {"type": "line", "strokeWidth": 2.5, "point": {"shape": "square", "size": 40, "filled": true}},
                      "encoding": {
                        "x": {
                          "field": "c", "type": "ordinal",
                          "scale": {"type": "point", "padding": 0.5},
                          "axis": {"title": null, "labelAngle": -45, "labelPadding": 6}
                        },
                        "y": {
                          "field": "v", "type": "quantitative",
                          "scale": {"domain": [12000, 20307], "nice": false, "zero": false},
                          "axis": {"title": null, "labelPadding": 10, "format": ",d", "values": [12000, 13000, 14000, 15000, 16000, 17000, 18000, 19000, 20000]}
                        },
                        "color": {
                          "field": "dt", "type": "nominal",
                          "sort": null,
                          "scale": {"domain": ["2023-07-28", "2023-06-30", "2023-05-29", "2023-04-24", "2023-03-30"], "range": ["#5B9BD5", "#ED7D31", "#A5A5A5", "#FFC000", "#4472C4"]},
                          "legend": {
                            "title": null, "orient": "none", "legendX": 249, "legendY": 44, "direction": "vertical",
                            "symbolSize": 132, "labelOffset": 6, "rowPadding": 1,
                            "encode": {
                              "symbols": {
                                "update": {
                                  "shape": {"value": "M-2,0H2M-0.5,-0.5H0.5V0.5H-0.5Z"},
                                  "fill": {"signal": "['#5B9BD5','#ED7D31','#A5A5A5','#FFC000','#4472C4'][indexof(['2023-07-28','2023-06-30','2023-05-29','2023-04-24','2023-03-30'], datum.value)]"},
                                  "stroke": {"signal": "['#5B9BD5','#ED7D31','#A5A5A5','#FFC000','#4472C4'][indexof(['2023-07-28','2023-06-30','2023-05-29','2023-04-24','2023-03-30'], datum.value)]"},
                                  "strokeWidth": {"value": 2.5},
                                  "opacity": {"value": 1}
                                }
                              }
                            }
                          }
                        }
                      }
                    }
                  ]
                }
              ]
            },
            {
              "bounds": "flush",
              "spacing": 2,
              "hconcat": [
                {
                  "width": 376, "height": 1,
                  "data": {"name": "sep"},
                  "title": {"text": "数据来源：银河期货、wind↵", "orient": "bottom", "anchor": "start", "dx": 2, "offset": 6, "fontSize": 13, "color": "#000000"},
                  "mark": {"type": "rule", "color": "#000000", "strokeWidth": 1},
                  "encoding": {"x": {"field": "a", "type": "quantitative", "scale": {"domain": [0, 1]}, "axis": null}, "x2": {"field": "b"}}
                },
                {
                  "width": 381, "height": 1,
                  "data": {"name": "sep"},
                  "title": {"text": "↵", "orient": "top", "anchor": "end", "dx": -1, "offset": 7, "fontSize": 11, "color": "#A6A6A6"},
                  "mark": {"type": "rule", "color": "#000000", "strokeWidth": 1},
                  "encoding": {"x": {"field": "a", "type": "quantitative", "scale": {"domain": [0, 1]}, "axis": null}, "x2": {"field": "b"}}
                }
              ]
            }
          ]
        }
      ]
    }
  ]
}
